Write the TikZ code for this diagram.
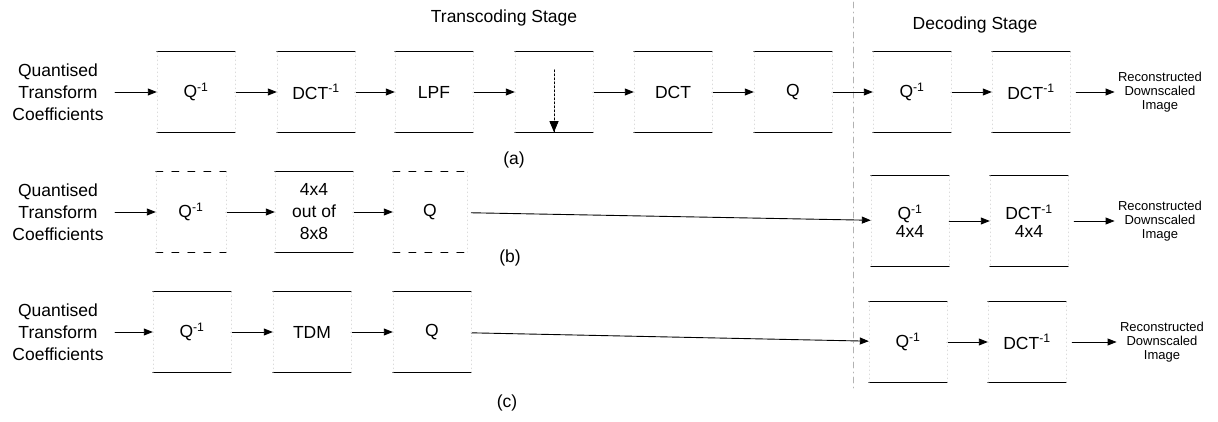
\documentclass[tikz,border=0pt]{standalone}
\usepackage{fontspec}
\setmainfont{Liberation Sans}
\usetikzlibrary{arrows.meta}

\newcommand{\invsup}{\textsuperscript{-1}}

\tikzset{
  blk/.style={minimum width=78pt,minimum height=80pt,inner sep=0pt,align=center,font=\fontsize{17.5}{22}\selectfont},
  txt/.style={align=center,font=\fontsize{17.5}{22}\selectfont},
  smalltxt/.style={align=center,font=\fontsize{13}{14}\selectfont},
  rim/.style={line width=0.9pt},
  dashrim/.style={line width=0.9pt,dash pattern=on 7pt off 9pt},
  side/.style={line width=0.5pt,gray!28,dash pattern=on 1pt off 3pt},
  flow/.style={->,line width=0.9pt},
  sepline/.style={line width=0.6pt,gray!60,dash pattern=on 6pt off 4pt on 1pt off 4pt},
}

\begin{document}
\begin{tikzpicture}[x=1pt,y=-1pt,>={Triangle[length=9pt,width=7pt]},line cap=round,line join=round]
\useasboundingbox (0,0) rectangle (1218,422);
% stage titles and separator
\node[txt] (transstage) at (504,18) {Transcoding Stage};
\node[txt] (decstage) at (975,25) {Decoding Stage};
\coordinate (septop) at (853,2);
\coordinate (sepbot) at (853,388);
\draw[sepline] (septop) -- (sepbot);
% row (a)
\node[txt] (ina) at (58,92) {Quantised\\Transform\\Coefficients};
\node[blk] (qinva) at (196,92) {Q\invsup};
\node[blk] (dctinva) at (316,92) {DCT\invsup};
\node[blk] (lpf) at (434,92) {LPF};
\node[blk] (down) at (554,92) {};
\node[blk] (dcta) at (673,92) {DCT};
\node[blk] (qa) at (793,92) {Q};
\node[blk] (qinvda) at (912,92) {Q\invsup};
\node[blk] (dctinvda) at (1031,92) {DCT\invsup};
\node[smalltxt] (outa) at (1160,92) {Reconstructed\\Downscaled\\Image};
\node[txt] (lbla) at (514,160) {(a)};
\draw[flow,shorten <=8pt] (ina) -- (qinva);
\draw[flow] (qinva) -- (dctinva);
\draw[flow] (dctinva) -- (lpf);
\draw[flow] (lpf) -- (down);
\draw[flow] (down) -- (dcta);
\draw[flow] (dcta) -- (qa);
\draw[flow] (qa) -- (qinvda);
\draw[flow] (qinvda) -- (dctinvda);
\draw[flow,shorten <=6pt] (dctinvda) -- (outa);
\coordinate (downtop) at ([yshift=-18pt]down.north);
\draw[line width=0.9pt,dash pattern=on 2pt off 2pt] (downtop) -- (down.south);
\draw[-{Triangle[length=11pt,width=9pt]},line width=0.9pt] ([yshift=11pt]down.south) -- (down.south);
% row (b)
\node[txt] (inb) at (58,212) {Quantised\\Transform\\Coefficients};
\node[blk,minimum width=70pt] (qinvb) at (191,212) {Q\invsup};
\node[blk] (sel) at (314,212) {4x4\\out of\\8x8};
\node[blk,minimum width=74pt] (qb) at (430,212) {Q};
\node[blk,minimum height=90pt,font=\fontsize{17.5}{18}\selectfont] (qinvdb) at (910,221) {Q\invsup\\4x4};
\node[blk,minimum height=90pt,font=\fontsize{17.5}{18}\selectfont] (dctinvdb) at (1029,221) {DCT\invsup\\4x4};
\node[smalltxt] (outb) at (1160,221) {Reconstructed\\Downscaled\\Image};
\node[txt] (lblb) at (510,258) {(b)};
\draw[flow,shorten <=8pt] (inb) -- (qinvb);
\draw[flow] (qinvb) -- (sel);
\draw[flow] (sel) -- (qb);
\draw[flow,shorten <=4pt] (qb) -- (qinvdb);
\draw[flow] (qinvdb) -- (dctinvdb);
\draw[flow,shorten <=6pt] (dctinvdb) -- (outb);
% row (c)
\node[txt] (inc) at (58,332) {Quantised\\Transform\\Coefficients};
\node[blk] (qinvc) at (192,332) {Q\invsup};
\node[blk] (tdm) at (312,332) {TDM};
\node[blk] (qc) at (432,332) {Q};
\node[blk] (qinvdc) at (908,342) {Q\invsup};
\node[blk] (dctinvdc) at (1027,342) {DCT\invsup};
\node[smalltxt] (outc) at (1162,342) {Reconstructed\\Downscaled\\Image};
\node[txt] (lblc) at (507,403) {(c)};
\draw[flow,shorten <=8pt] (inc) -- (qinvc);
\draw[flow] (qinvc) -- (tdm);
\draw[flow] (tdm) -- (qc);
\draw[flow] (qc) -- (qinvdc);
\draw[flow] (qinvdc) -- (dctinvdc);
\draw[flow,shorten <=6pt] (dctinvdc) -- (outc);
% box outlines: solid top and bottom, faint sides
\foreach \b in {qinva,dctinva,lpf,down,dcta,qa,qinvda,dctinvda,sel,qinvdb,dctinvdb,qinvc,tdm,qc,qinvdc,dctinvdc}{
  \draw[rim] (\b.north west) -- (\b.north east) (\b.south west) -- (\b.south east);
}
\foreach \b in {qinvb,qb}{
  \draw[dashrim] (\b.north west) -- (\b.north east) (\b.south west) -- (\b.south east);
}
\foreach \b in {qinva,dctinva,lpf,down,dcta,qa,qinvda,dctinvda,qinvb,sel,qb,qinvdb,dctinvdb,qinvc,tdm,qc,qinvdc,dctinvdc}{
  \draw[side] (\b.north west) -- (\b.south west) (\b.north east) -- (\b.south east);
}
\end{tikzpicture}
\end{document}
